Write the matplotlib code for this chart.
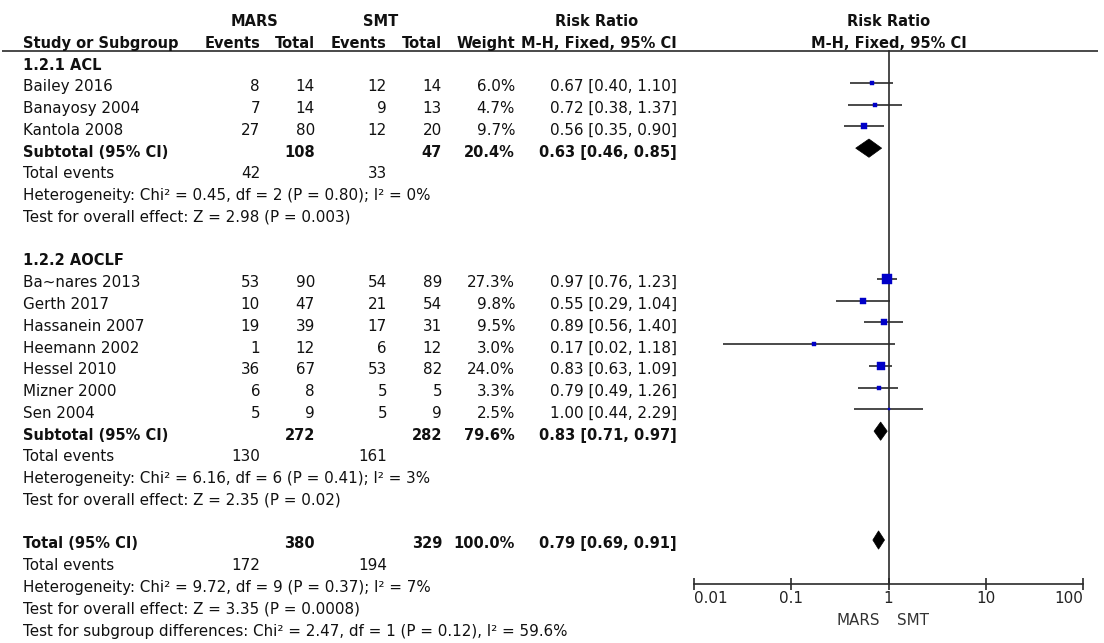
#!/usr/bin/env python3
"""
Forest plot: MARS vs SMT, risk ratio (M-H, fixed, 95% CI).
"""
import matplotlib
matplotlib.use("Agg")
import matplotlib.pyplot as plt
import numpy as np
from matplotlib.patches import Polygon

# ---- data -------------------------------------------------------------
group_labels = ["1.2.1 ACL", "1.2.2 AOCLF"]

study_names = ["Bailey 2016", "Banayosy 2004", "Kantola 2008",
               "Ba~nares 2013", "Gerth 2017", "Hassanein 2007", "Heemann 2002",
               "Hessel 2010", "Mizner 2000", "Sen 2004"]
study_group = [0, 0, 0, 1, 1, 1, 1, 1, 1, 1]
mars_events = [8, 7, 27, 53, 10, 19, 1, 36, 6, 5]
mars_total = [14, 14, 80, 90, 47, 39, 12, 67, 8, 9]
smt_events = [12, 9, 12, 54, 21, 17, 6, 53, 5, 5]
smt_total = [14, 13, 20, 89, 54, 31, 12, 82, 5, 9]
weight = [6.0, 4.7, 9.7, 27.3, 9.8, 9.5, 3.0, 24.0, 3.3, 2.5]
rr = [0.67, 0.72, 0.56, 0.97, 0.55, 0.89, 0.17, 0.83, 0.79, 1.00]
rr_lo = [0.40, 0.38, 0.35, 0.76, 0.29, 0.56, 0.02, 0.63, 0.49, 0.44]
rr_hi = [1.10, 1.37, 0.90, 1.23, 1.04, 1.40, 1.18, 1.09, 1.26, 2.29]

sub_mars_total = [108, 272]
sub_smt_total = [47, 282]
sub_weight = [20.4, 79.6]
sub_rr = [0.63, 0.83]
sub_lo = [0.46, 0.71]
sub_hi = [0.85, 0.97]
sub_mars_events = [42, 130]
sub_smt_events = [33, 161]
sub_het = ["Heterogeneity: Chi\u00b2 = 0.45, df = 2 (P = 0.80); I\u00b2 = 0%",
           "Heterogeneity: Chi\u00b2 = 6.16, df = 6 (P = 0.41); I\u00b2 = 3%"]
sub_test = ["Test for overall effect: Z = 2.98 (P = 0.003)",
            "Test for overall effect: Z = 2.35 (P = 0.02)"]

tot_mars_total = 380
tot_smt_total = 329
tot_weight = 100.0
tot_rr, tot_lo, tot_hi = 0.79, 0.69, 0.91
tot_mars_events = 172
tot_smt_events = 194
tot_het = "Heterogeneity: Chi\u00b2 = 9.72, df = 9 (P = 0.37); I\u00b2 = 7%"
tot_test = "Test for overall effect: Z = 3.35 (P = 0.0008)"
subgroup_test = "Test for subgroup differences: Chi\u00b2 = 2.47, df = 1 (P = 0.12), I\u00b2 = 59.6%"

x_ticks = [0.01, 0.1, 1, 10, 100]
x_ticklabels = ["0.01", "0.1", "1", "10", "100"]

# ---- layout -----------------------------------------------------------
W, H = 1104, 643
ROW0_PX, ROW_PX = 65.0, 21.77           # pixel y of first row, row height
ROW_TOP = (0 - ROW0_PX) / ROW_PX
ROW_BOT = (H - ROW0_PX) / ROW_PX
HEADER_LINE = -0.66
AXIS_ROW = 23.85
MARK_SHIFT = -0.18                      # marks sit a little above the text

COL_LABEL = 23
COL_ME, COL_MT, COL_SE, COL_ST, COL_W, COL_CI = 260, 315, 387, 442, 515, 677

FS = 10.9
FS_BOLD = 10.5
TXT = "#111111"
BLUE = "#0000c8"
LINE = "#2a2a2a"

plt.rcParams["font.family"] = ["DejaVu Sans"]

fig = plt.figure(figsize=(W / 100, H / 100), dpi=100)
ax_t = fig.add_axes([0, 0, 1, 1])
ax_t.set_xlim(0, W)
ax_t.set_ylim(ROW_BOT, ROW_TOP)
ax_t.axis("off")

ax_f = fig.add_axes([694 / W, 0, (1083 - 694) / W, 1])
ax_f.set_xscale("log")
ax_f.set_xlim(0.01, 100)
ax_f.set_ylim(ROW_BOT, ROW_TOP)
ax_f.patch.set_alpha(0)


def put(x, r, s, ha="right", bold=False, ax=None):
    (ax or ax_t).text(x, r, s, ha=ha, va="center",
                      fontsize=FS_BOLD if bold else FS,
                      fontweight="bold" if bold else "normal", color=TXT)


# header
put(254, -2, "MARS", ha="center", bold=True)
put(381, -2, "SMT", ha="center", bold=True)
put(597, -2, "Risk Ratio", ha="center", bold=True)
put(COL_LABEL, -1, "Study or Subgroup", ha="left", bold=True)
put(COL_ME, -1, "Events", bold=True)
put(COL_MT, -1, "Total", bold=True)
put(COL_SE, -1, "Events", bold=True)
put(COL_ST, -1, "Total", bold=True)
put(COL_W, -1, "Weight", bold=True)
put(COL_CI, -1, "M-H, Fixed, 95% CI", bold=True)
ax_t.plot([2, 1098], [HEADER_LINE, HEADER_LINE], color=LINE, lw=1.2,
          solid_capstyle="butt")
put(1, -2, "Risk Ratio", ha="center", bold=True, ax=ax_f)
put(1, -1, "M-H, Fixed, 95% CI", ha="center", bold=True, ax=ax_f)


def diamond(r, mid, lo, hi, h=0.42):
    r = r + MARK_SHIFT
    ax_f.add_patch(Polygon([(lo, r), (mid, r - h), (hi, r), (mid, r + h)],
                           closed=True, facecolor="black", edgecolor="black",
                           lw=0.5))


def study_mark(r, i):
    r = r + MARK_SHIFT
    ax_f.plot([rr_lo[i], rr_hi[i]], [r, r], color=LINE, lw=1.2,
              solid_capstyle="butt")
    ax_f.plot(rr[i], r, marker="s", ms=1.3 * np.sqrt(weight[i]),
              color=BLUE, mec=BLUE, mew=0.3)


row = 0
for g, glabel in enumerate(group_labels):
    put(COL_LABEL, row, glabel, ha="left", bold=True)
    row += 1
    for i, name in enumerate(study_names):
        if study_group[i] != g:
            continue
        put(COL_LABEL, row, name, ha="left")
        put(COL_ME, row, str(mars_events[i]))
        put(COL_MT, row, str(mars_total[i]))
        put(COL_SE, row, str(smt_events[i]))
        put(COL_ST, row, str(smt_total[i]))
        put(COL_W, row, f"{weight[i]:.1f}%")
        put(COL_CI, row, f"{rr[i]:.2f} [{rr_lo[i]:.2f}, {rr_hi[i]:.2f}]")
        study_mark(row, i)
        row += 1
    put(COL_LABEL, row, "Subtotal (95% CI)", ha="left", bold=True)
    put(COL_MT, row, str(sub_mars_total[g]), bold=True)
    put(COL_ST, row, str(sub_smt_total[g]), bold=True)
    put(COL_W, row, f"{sub_weight[g]:.1f}%", bold=True)
    put(COL_CI, row, f"{sub_rr[g]:.2f} [{sub_lo[g]:.2f}, {sub_hi[g]:.2f}]",
        bold=True)
    diamond(row, sub_rr[g], sub_lo[g], sub_hi[g])
    row += 1
    put(COL_LABEL, row, "Total events", ha="left")
    put(COL_ME, row, str(sub_mars_events[g]))
    put(COL_SE, row, str(sub_smt_events[g]))
    row += 1
    put(COL_LABEL, row, sub_het[g], ha="left")
    row += 1
    put(COL_LABEL, row, sub_test[g], ha="left")
    row += 2

put(COL_LABEL, row, "Total (95% CI)", ha="left", bold=True)
put(COL_MT, row, str(tot_mars_total), bold=True)
put(COL_ST, row, str(tot_smt_total), bold=True)
put(COL_W, row, f"{tot_weight:.1f}%", bold=True)
put(COL_CI, row, f"{tot_rr:.2f} [{tot_lo:.2f}, {tot_hi:.2f}]", bold=True)
diamond(row, tot_rr, tot_lo, tot_hi)
row += 1
put(COL_LABEL, row, "Total events", ha="left")
put(COL_ME, row, str(tot_mars_events))
put(COL_SE, row, str(tot_smt_events))
row += 1
put(COL_LABEL, row, tot_het, ha="left")
row += 1
put(COL_LABEL, row, tot_test, ha="left")
row += 1
put(COL_LABEL, row, subgroup_test, ha="left")

# forest axis
ax_f.plot([1, 1], [HEADER_LINE, AXIS_ROW], color=LINE, lw=1.2, zorder=1)
for side in ("left", "right", "top"):
    ax_f.spines[side].set_visible(False)
ax_f.spines["bottom"].set_position(("data", AXIS_ROW))
ax_f.spines["bottom"].set_color(LINE)
ax_f.spines["bottom"].set_linewidth(1.2)
ax_f.set_yticks([])
ax_f.set_xticks(x_ticks)
ax_f.set_xticklabels(x_ticklabels)
ax_f.xaxis.set_minor_locator(matplotlib.ticker.NullLocator())
ax_f.tick_params(axis="x", direction="inout", length=8, width=1.2,
                 color=LINE, labelsize=FS, labelcolor="#222222", pad=1)
labels = ax_f.get_xticklabels()
labels[0].set_horizontalalignment("left")
labels[-1].set_horizontalalignment("right")
ax_f.annotate("MARS", (1, 25.5), xytext=(-6, 0), textcoords="offset points",
              ha="right", va="center", fontsize=FS, color="#333333")
ax_f.annotate("SMT", (1, 25.5), xytext=(6, 0), textcoords="offset points",
              ha="left", va="center", fontsize=FS, color="#333333")

fig.savefig("out.png", dpi=100)
